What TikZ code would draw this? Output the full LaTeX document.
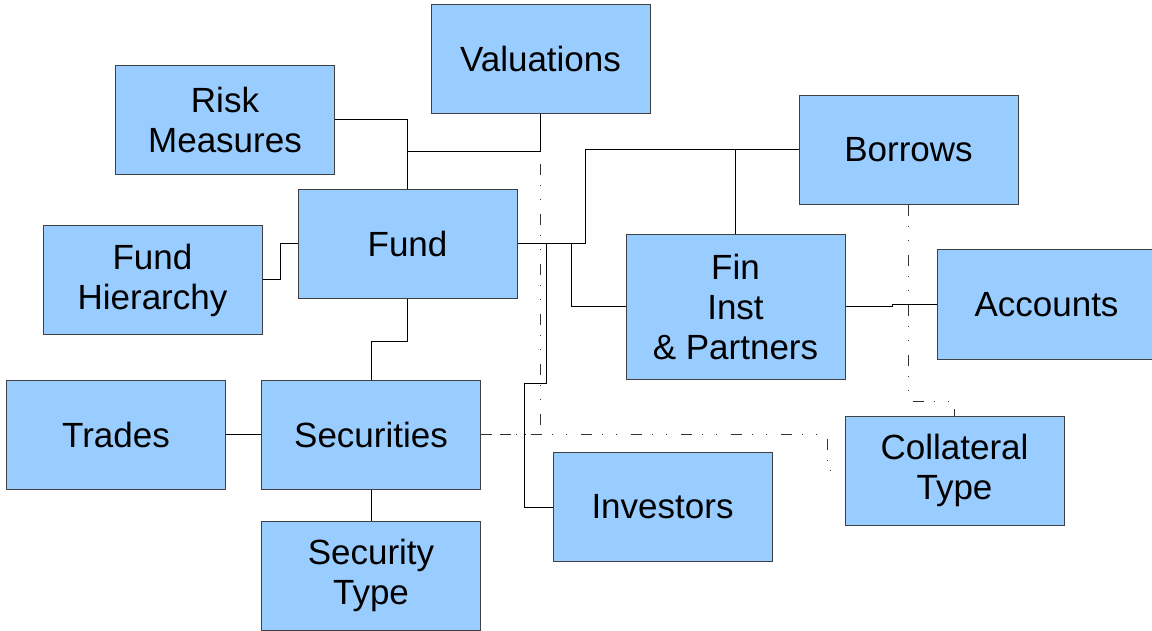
\documentclass[tikz,border=0pt]{standalone}
\usepackage{fontspec}
\setmainfont{Liberation Sans}
\definecolor{boxblue}{HTML}{99CCFF}
\begin{document}
\begin{tikzpicture}[x=1pt,y=-1pt,
  box/.style={draw=black!75, line width=1pt, fill=boxblue, rectangle,
    minimum width=219pt, minimum height=109pt, inner sep=0pt,
    align=center, font=\fontsize{35}{40}\selectfont},
  link/.style={draw=black, line width=1pt},
  dd/.style={draw=black!80, line width=1pt,
    dash pattern=on 11pt off 10pt on 1pt off 13pt on 1pt off 14pt}]
\useasboundingbox (0,0) rectangle (1152,631);

% entities
\node[box] (val) at (540.5,59) {Valuations};
\node[box] (risk) at (225,120) {Risk\\Measures};
\node[box] (bor) at (908.5,150) {Borrows};
\node[box] (fund) at (407.5,244) {Fund};
\node[box] (fh) at (152.5,280) {Fund\\Hierarchy};
\node[box, minimum height=144pt] (fin) at (735.5,307) {Fin\\Inst\\\& Partners};
\node[box] (acc) at (1046.5,304.5) {Accounts};
\node[box] (tr) at (116,434.5) {Trades};
\node[box] (sec) at (371,434.5) {Securities};
\node[box] (inv) at (662.5,507) {Investors};
\node[box] (col) at (954.5,470.5) {Collateral\\Type};
\node[box] (st) at (371,575.5) {Security\\Type};

% junction points
\coordinate (j1) at (407.5,152);
\coordinate (j2) at (585,244);
\coordinate (j3) at (735.5,150);
\coordinate (j4) at (571,244);
\coordinate (j5) at (546,244);
\coordinate (j6) at (546,383);
\coordinate (j7) at (524,383);
\coordinate (j8) at (407.5,341);
\coordinate (j9) at (954.5,401);
\coordinate (j10) at (827,434.5);
\coordinate (j11) at (892,307);
\coordinate (j12) at (892,304.5);

% dash-dot relationships
\draw[dd] (val.south) |- (sec.east);
\draw[dd] (sec.east) -- (j10) |- (col.west);
\draw[dd] (bor.south) |- (j9) -- (col.north);

% solid relationships
\draw[link] (risk.east) -| (fund.north);
\draw[link] (val.south) |- (j1);
\draw[link] (fund.east) -- (j2) |- (bor.west);
\draw[link] (j3) -- (fin.north);
\draw[link] (j4) |- (fin.west);
\draw[link] (j5) -- (j6) -- (j7) |- (inv.west);
\draw[link] (fh.east) -- ++(18,0) |- (fund.west);
\draw[link] (fund.south) -- (j8) -| (sec.north);
\draw[link] (tr.east) -- (sec.west);
\draw[link] (sec.south) -- (st.north);
\draw[link] (fin.east) -- (j11) -- (j12) -- (acc.west);
\end{tikzpicture}
\end{document}
